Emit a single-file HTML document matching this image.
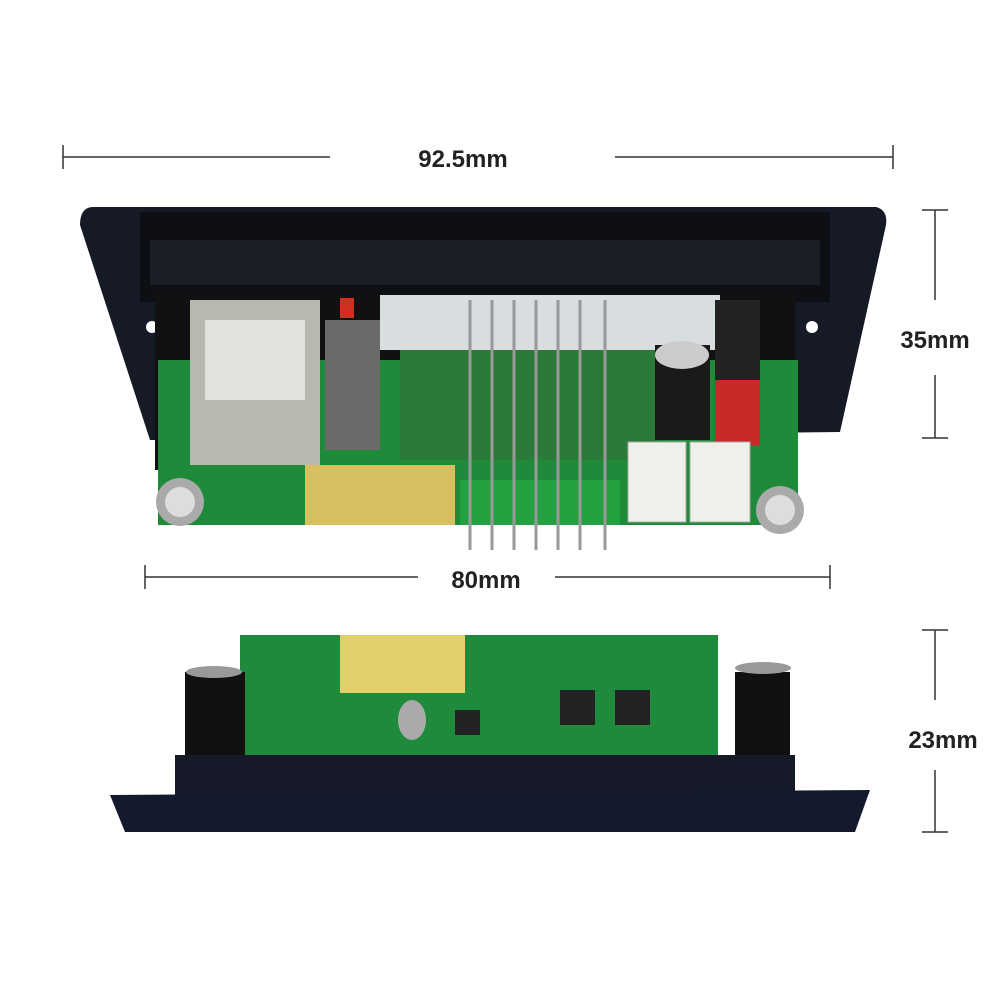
<!DOCTYPE html>
<html><head><style>
html,body{margin:0;padding:0;background:#fff;}
svg{display:block;}
text{font-family:"Liberation Sans",sans-serif;font-weight:bold;fill:#222;}
</style></head><body>
<svg width="1002" height="1002" viewBox="0 0 1002 1002" xmlns="http://www.w3.org/2000/svg">
<rect width="1002" height="1002" fill="#fff"/>
<!-- dimension lines -->
<g stroke="#333" stroke-width="1.5">
<line x1="63" y1="157" x2="330" y2="157"/><line x1="615" y1="157" x2="893" y2="157"/>
<line x1="63" y1="145" x2="63" y2="169"/><line x1="893" y1="145" x2="893" y2="169"/>
<line x1="145" y1="577" x2="418" y2="577"/><line x1="555" y1="577" x2="830" y2="577"/>
<line x1="145" y1="565" x2="145" y2="589"/><line x1="830" y1="565" x2="830" y2="589"/>
<line x1="935" y1="210" x2="935" y2="300"/><line x1="935" y1="375" x2="935" y2="438"/>
<line x1="922" y1="210" x2="948" y2="210"/><line x1="922" y1="438" x2="948" y2="438"/>
<line x1="935" y1="630" x2="935" y2="700"/><line x1="935" y1="770" x2="935" y2="832"/>
<line x1="922" y1="630" x2="948" y2="630"/><line x1="922" y1="832" x2="948" y2="832"/>
</g>
<text x="463" y="167" font-size="24" text-anchor="middle">92.5mm</text>
<text x="486" y="588" font-size="24" text-anchor="middle">80mm</text>
<text x="935" y="348" font-size="24" text-anchor="middle">35mm</text>
<text x="943" y="748" font-size="24" text-anchor="middle">23mm</text>
<!-- top device -->
<path d="M92 207 L876 207 Q888 210 886 225 L840 432 L150 440 L80 225 Q80 208 92 207Z" fill="#151a26"/>
<circle cx="152" cy="327" r="6" fill="#fff"/><circle cx="812" cy="327" r="6" fill="#fff"/>
<rect x="140" y="212" width="690" height="90" fill="#0d0f14"/>
<rect x="150" y="240" width="670" height="45" fill="#1c1f26"/>
<rect x="155" y="295" width="640" height="175" fill="#111"/>
<rect x="158" y="360" width="640" height="165" fill="#1e8a3a"/>
<rect x="380" y="295" width="340" height="55" fill="#d8dde0"/>
<rect x="400" y="350" width="260" height="110" fill="#2a7a3a"/>
<rect x="190" y="300" width="130" height="165" fill="#b8b8b0"/>
<rect x="205" y="320" width="100" height="80" fill="#e2e2dc"/>
<rect x="325" y="320" width="55" height="130" fill="#6a6a6a"/>
<rect x="340" y="298" width="14" height="20" fill="#d03020"/>
<rect x="305" y="465" width="150" height="60" fill="#d8c060"/>
<rect x="460" y="480" width="160" height="45" fill="#23a040"/>
<g stroke="#999" stroke-width="3">
<line x1="470" y1="300" x2="470" y2="550"/><line x1="492" y1="300" x2="492" y2="550"/>
<line x1="514" y1="300" x2="514" y2="550"/><line x1="536" y1="300" x2="536" y2="550"/>
<line x1="558" y1="300" x2="558" y2="550"/><line x1="580" y1="300" x2="580" y2="550"/>
<line x1="605" y1="300" x2="605" y2="550"/></g>
<rect x="655" y="345" width="55" height="95" fill="#1a1a1a"/>
<ellipse cx="682" cy="355" rx="27" ry="14" fill="#ccc"/>
<rect x="715" y="300" width="45" height="80" fill="#222"/>
<rect x="715" y="380" width="45" height="65" fill="#c82a2a"/>
<rect x="628" y="442" width="58" height="80" fill="#f0f0ea" stroke="#aaa"/>
<rect x="690" y="442" width="60" height="80" fill="#f0f0ea" stroke="#aaa"/>
<circle cx="180" cy="502" r="24" fill="#aaa"/><circle cx="180" cy="502" r="15" fill="#ddd"/>
<circle cx="780" cy="510" r="24" fill="#aaa"/><circle cx="780" cy="510" r="15" fill="#ddd"/>
<!-- bottom device -->
<rect x="240" y="635" width="478" height="125" fill="#1f8a3c"/>
<rect x="340" y="635" width="125" height="58" fill="#e2cf6a"/>
<rect x="455" y="710" width="25" height="25" fill="#222"/>
<rect x="560" y="690" width="35" height="35" fill="#222"/>
<rect x="615" y="690" width="35" height="35" fill="#222"/>
<ellipse cx="412" cy="720" rx="14" ry="20" fill="#aaa"/>
<rect x="185" y="672" width="60" height="90" fill="#111"/>
<rect x="735" y="672" width="55" height="90" fill="#111"/>
<ellipse cx="214" cy="672" rx="28" ry="6" fill="#999"/>
<ellipse cx="763" cy="668" rx="28" ry="6" fill="#999"/>
<rect x="175" y="755" width="620" height="45" fill="#161a28"/>
<path d="M110 795 L870 790 L855 832 L125 832 Z" fill="#141a2e"/>
</svg>
</body></html>
